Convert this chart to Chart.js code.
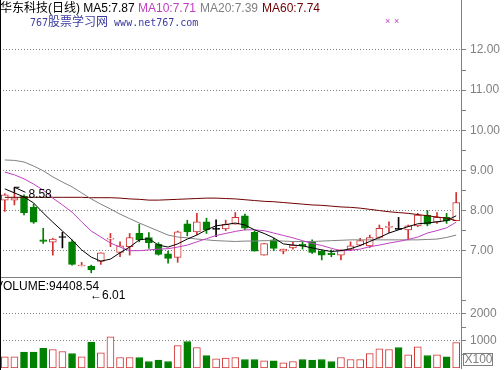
<!DOCTYPE html>
<html>
<head>
<meta charset="utf-8">
<script src="https://cdn.jsdelivr.net/npm/chart.js@4.4.1/dist/chart.umd.min.js"></script>
<style>
  html, body { margin: 0; padding: 0; background: #fff; }
  #wrap { position: relative; width: 504px; height: 370px; overflow: hidden; background: #fff; }
  #priceChart { position: absolute; left: 0; top: 0; }
  #volChart { position: absolute; left: 0; top: 277px; }
  .t { position: absolute; white-space: pre; font: 12px "Liberation Sans", Arial, "Noto Sans CJK SC", sans-serif; line-height: 14px; z-index: 2; }
  .mono { font-family: "DejaVu Sans Mono", "Liberation Mono", monospace; font-size: 10px; }
</style>
</head>
<body>
<div id="wrap">
  <canvas id="priceChart" width="504" height="277"></canvas>
  <canvas id="volChart" width="504" height="93"></canvas>

  <div class="t" style="left:0; top:1px; color:#000;">华东科技(日线) MA5:7.87</div>
  <div class="t" style="left:138px; top:1px; color:#c040c0;">MA10:7.71</div>
  <div class="t" style="left:200px; top:1px; color:#808080;">MA20:7.39</div>
  <div class="t" style="left:262px; top:1px; color:#700000;">MA60:7.74</div>
  <div class="t" style="left:30px; top:14px; color:#3c3ca0; font-family:'Noto Sans CJK SC', sans-serif;"><span class="mono">767</span>股票学习网<span class="mono"> www.net767.com</span></div>
  <div class="t" style="left:385px; top:14px; color:#c040c0; font-size:9px;">×</div>
  <div class="t" style="left:394px; top:14px; color:#c040c0; font-size:9px;">×</div>
  <div class="t" style="left:-5px; top:279px; color:#000;">VOLUME:94408.54</div>
  <div class="t" style="left:90px; top:288px; color:#000;">←6.01</div>
</div>

<script>
// daily bars, oldest first
const days = ['1', '2', '3', '4', '5', '6', '7', '8', '9', '10', '11', '12', '13', '14', '15', '16',
  '17', '18', '19', '20', '21', '22', '23', '24', '25', '26', '27', '28', '29', '30', '31', '32',
  '33', '34', '35', '36', '37', '38', '39', '40', '41', '42', '43', '44', '45', '46', '47', '48'];

const opens  = [8.26, 8.26, 8.36, 8.08, 7.27, 7.21, 7.33, 7.22, 6.62, 6.62, 6.73, 7.29, 6.96, 7.10, 7.43, 7.33,
  7.16, 6.92, 6.83, 7.67, 7.47, 7.72, 7.53, 7.54, 7.66, 7.87, 7.46, 6.89, 7.27, 6.99, 7.07, 7.16,
  7.22, 6.99, 6.94, 6.89, 7.03, 7.14, 7.12, 7.33, 7.58, 7.53, 7.52, 7.62, 7.89, 7.71, 7.83, 7.75];
const closes = [8.39, 8.32, 7.95, 7.71, 7.23, 7.29, 7.33, 6.66, 6.64, 6.52, 6.95, 7.31, 7.12, 7.33, 7.27, 7.20,
  6.91, 6.81, 7.47, 7.47, 7.72, 7.52, 7.53, 7.66, 7.83, 7.56, 6.99, 7.18, 7.06, 7.04, 7.14, 7.12,
  6.96, 6.89, 6.90, 7.02, 7.12, 7.25, 7.33, 7.56, 7.60, 7.53, 7.62, 7.89, 7.66, 7.83, 7.75, 8.20];
const highs  = [8.42, 8.58, 8.39, 8.16, 7.56, 7.31, 7.46, 7.27, 6.71, 6.64, 6.95, 7.43, 7.22, 7.43, 7.66, 7.45,
  7.20, 6.99, 7.49, 7.76, 7.93, 7.81, 7.77, 7.76, 7.95, 7.91, 7.49, 7.18, 7.31, 7.04, 7.22, 7.22,
  7.27, 7.02, 7.02, 7.02, 7.22, 7.31, 7.39, 7.64, 7.72, 7.83, 7.64, 7.93, 8.00, 7.95, 7.93, 8.45];
const lows   = [7.98, 8.14, 7.89, 7.68, 7.18, 6.89, 7.07, 6.64, 6.62, 6.45, 6.66, 7.10, 6.85, 6.89, 7.22, 7.06,
  6.89, 6.69, 6.71, 7.37, 7.40, 7.43, 7.35, 7.50, 7.66, 7.52, 6.99, 6.89, 7.00, 6.92, 7.04, 7.04,
  6.93, 6.77, 6.85, 6.77, 7.00, 7.12, 7.08, 7.31, 7.45, 7.53, 7.27, 7.60, 7.62, 7.68, 7.68, 7.75];

const ma5  = [8.54, 8.44, 8.34, 8.19, 7.94, 7.71, 7.49, 7.27, 7.02, 6.84, 6.74, 6.79, 6.95, 7.09, 7.27, 7.30,
  7.14, 7.09, 7.17, 7.29, 7.39, 7.52, 7.62, 7.65, 7.69, 7.64, 7.52, 7.43, 7.32, 7.17, 7.14, 7.12,
  7.07, 7.02, 6.98, 7.00, 7.05, 7.13, 7.23, 7.33, 7.44, 7.52, 7.60, 7.67, 7.69, 7.72, 7.75, 7.87];
const ma10 = [8.96, 8.89, 8.79, 8.66, 8.51, 8.31, 8.14, 7.96, 7.72, 7.49, 7.34, 7.19, 7.09, 7.00, 7.00, 7.02,
  7.04, 7.05, 7.09, 7.14, 7.22, 7.30, 7.38, 7.43, 7.48, 7.52, 7.52, 7.50, 7.44, 7.38, 7.32, 7.25,
  7.18, 7.13, 7.06, 7.00, 7.01, 7.04, 7.10, 7.14, 7.19, 7.23, 7.28, 7.34, 7.44, 7.50, 7.57, 7.71];
const ma20 = [9.26, 9.25, 9.21, 9.11, 8.99, 8.84, 8.71, 8.59, 8.44, 8.29, 8.16, 8.04, 7.91, 7.80, 7.69, 7.59,
  7.49, 7.39, 7.34, 7.32, 7.29, 7.27, 7.25, 7.24, 7.23, 7.24, 7.24, 7.25, 7.25, 7.24, 7.23, 7.23,
  7.23, 7.24, 7.25, 7.26, 7.27, 7.27, 7.27, 7.27, 7.27, 7.27, 7.27, 7.27, 7.28, 7.29, 7.33, 7.39];
const ma60 = [8.33, 8.33, 8.33, 8.33, 8.33, 8.33, 8.33, 8.33, 8.33, 8.32, 8.32, 8.32, 8.31, 8.29, 8.28, 8.26,
  8.26, 8.27, 8.28, 8.29, 8.30, 8.31, 8.31, 8.30, 8.29, 8.27, 8.25, 8.23, 8.22, 8.20, 8.18, 8.16,
  8.14, 8.13, 8.11, 8.09, 8.08, 8.06, 8.03, 8.00, 7.97, 7.95, 7.93, 7.90, 7.87, 7.84, 7.81, 7.75];

// volume in hands x100
const volumes = [415, 415, 585, 585, 733, 685, 611, 537, 415, 956, 563, 1156, 389, 389, 389, 241,
  289, 241, 833, 981, 759, 463, 341, 363, 389, 315, 315, 267, 267, 193, 241, 315,
  289, 315, 241, 389, 315, 315, 537, 711, 685, 759, 489, 785, 463, 489, 415, 944];

const priceMajor = [7, 8, 9, 10, 11, 12];
const priceMinor = [7.5, 8.5, 9.5, 10.5, 11.5];
const volMajor = [1000, 2000];
const volMinor = [500, 1500, 2500];

const RED = '#d23232', GREEN = '#008000', BLACK = '#000000', GRID = '#808080';

const candleColor = opens.map((o, i) => closes[i] > o ? RED : (closes[i] < o ? GREEN : BLACK));
const bodyFill = opens.map((o, i) => closes[i] > o ? '#ffffff' : candleColor[i]);
const volUp = opens.map((o, i) => closes[i] !== o ? closes[i] > o : (i === 0 || closes[i] >= closes[i - 1]));

Chart.defaults.font.family = '"Liberation Sans", Arial, sans-serif';
Chart.defaults.font.size = 12;

// frame lines and the high marker
const priceDecor = {
  id: 'priceDecor',
  afterDraw(chart) {
    const { ctx, scales } = chart;
    ctx.save();
    ctx.strokeStyle = '#000';
    ctx.lineWidth = 1;
    ctx.beginPath();
    ctx.moveTo(0.5, 0);
    ctx.lineTo(0.5, chart.height);
    ctx.stroke();

    // highest high
    let hi = 0;
    highs.forEach((h, i) => { if (h > highs[hi]) hi = i; });
    const x = scales.x.getPixelForValue(hi);
    const y = scales.y.getPixelForValue(highs[hi]);
    ctx.beginPath();
    ctx.moveTo(x + 11, y + 5);
    ctx.lineTo(x, y);
    ctx.moveTo(x, y);
    ctx.lineTo(x + 5, y);
    ctx.moveTo(x, y);
    ctx.lineTo(x, y + 5);
    ctx.stroke();
    ctx.fillStyle = '#000';
    ctx.font = '12px "Liberation Sans", Arial';
    ctx.textBaseline = 'middle';
    ctx.fillText(highs[hi].toFixed(2), x + 14, y + 7);
    ctx.restore();
  }
};

const volDecor = {
  id: 'volDecor',
  afterDraw(chart) {
    const { ctx, chartArea } = chart;
    ctx.save();
    ctx.strokeStyle = GRID;
    ctx.lineWidth = 1;
    ctx.beginPath();
    ctx.moveTo(0, 0.5);
    ctx.lineTo(chartArea.right, 0.5);
    ctx.stroke();
    ctx.strokeStyle = '#000';
    ctx.beginPath();
    ctx.moveTo(0.5, 0);
    ctx.lineTo(0.5, chart.height);
    ctx.stroke();
    // unit box
    ctx.strokeStyle = GRID;
    ctx.strokeRect(chartArea.right + 2.5, 76.5, 29, 12);
    ctx.fillStyle = GRID;
    ctx.font = '12px "Liberation Sans", Arial';
    ctx.textBaseline = 'middle';
    ctx.fillText('X100', chartArea.right + 3.5, 83);
    ctx.restore();
  }
};

function rightAxis(major, minor, min, max, fmt) {
  return {
    position: 'right',
    min: min,
    max: max,
    afterBuildTicks: (axis) => { axis.ticks = major.concat(minor).sort((a, b) => a - b).map(v => ({ value: v })); },
    afterFit: (axis) => { axis.width = 43; axis.paddingTop = 0; axis.paddingBottom = 0; },
    ticks: {
      color: GRID,
      padding: 4,
      font: { size: 12 },
      callback: (v) => major.includes(v) ? fmt(v) : ''
    },
    grid: {
      color: (c) => major.includes(c.tick.value) ? GRID : 'rgba(0,0,0,0)',
      tickColor: GRID,
      tickLength: 5,
      lineWidth: 1
    },
    border: { display: true, color: GRID, width: 1, dash: [1, 2] }
  };
}

new Chart(document.getElementById('priceChart'), {
  type: 'bar',
  data: {
    labels: days,
    datasets: [
      { type: 'line', label: 'MA5', data: ma5, borderColor: BLACK, borderWidth: 1, pointRadius: 0, order: 1 },
      { type: 'line', label: 'MA10', data: ma10, borderColor: '#c040c0', borderWidth: 1, pointRadius: 0, order: 1 },
      { type: 'line', label: 'MA20', data: ma20, borderColor: '#808080', borderWidth: 1, pointRadius: 0, order: 1 },
      { type: 'line', label: 'MA60', data: ma60, borderColor: '#700000', borderWidth: 1, pointRadius: 0, order: 1 },
      { label: 'body', data: opens.map((o, i) => [o, closes[i]]), backgroundColor: bodyFill, borderColor: candleColor,
        borderWidth: 1, borderSkipped: false, barThickness: 7, minBarLength: 1, grouped: false, order: 5 },
      { label: 'wick', data: lows.map((l, i) => [l, highs[i]]), backgroundColor: candleColor,
        borderWidth: 0, barThickness: 1, grouped: false, order: 6 }
    ]
  },
  options: {
    responsive: false, animation: false, devicePixelRatio: 1, events: [],
    layout: { padding: 0 },
    scales: {
      x: { display: false, offset: true },
      y: rightAxis(priceMajor, priceMinor, 6.345, 13.245, (v) => v.toFixed(2))
    },
    plugins: { legend: { display: false }, tooltip: { enabled: false } }
  },
  plugins: [priceDecor]
});

new Chart(document.getElementById('volChart'), {
  type: 'bar',
  data: {
    labels: days,
    datasets: [
      { label: 'VOLUME', data: volumes,
        backgroundColor: volUp.map(u => u ? '#ffffff' : GREEN),
        borderColor: volUp.map(u => u ? RED : GREEN),
        borderWidth: 1, borderSkipped: false, barThickness: 7 }
    ]
  },
  options: {
    responsive: false, animation: false, devicePixelRatio: 1, events: [],
    layout: { padding: { bottom: 2 } },
    scales: {
      x: { display: false, offset: true },
      y: rightAxis(volMajor, volMinor, 0, 3370, (v) => String(v))
    },
    plugins: { legend: { display: false }, tooltip: { enabled: false } }
  },
  plugins: [volDecor]
});
</script>
</body>
</html>
